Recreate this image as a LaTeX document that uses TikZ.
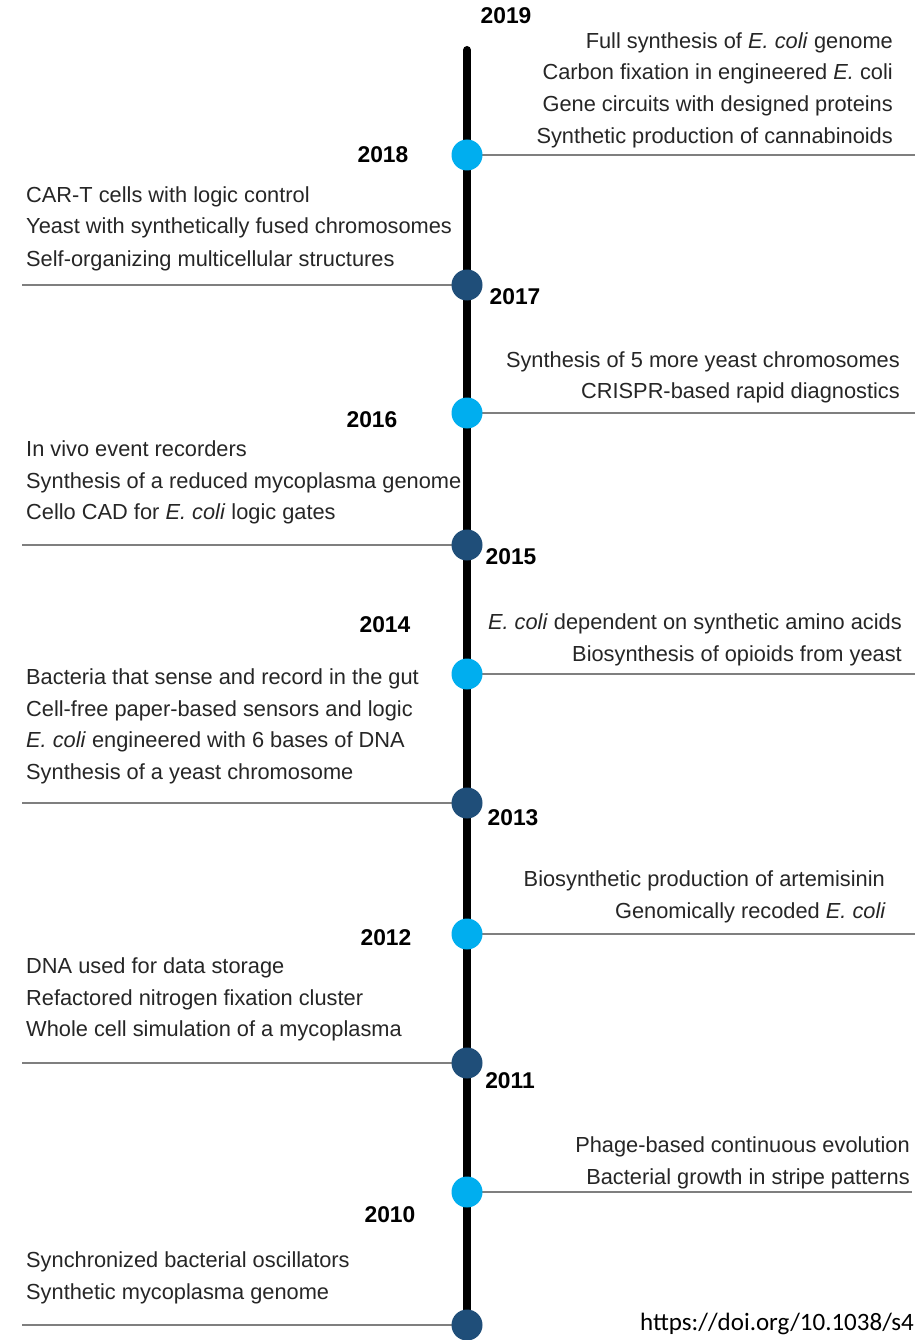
\documentclass[tikz,border=0pt]{standalone}
\usepackage{fontspec}
\setmainfont{Liberation Sans}
\newfontfamily\doifont{Carlito}
\definecolor{lightdot}{HTML}{00AEEF}
\definecolor{darkdot}{HTML}{1F4E79}
\definecolor{rulegray}{HTML}{7F7F7F}
\begin{document}
\begin{tikzpicture}[x=1pt,y=-1pt,
  item/.style={inner sep=0pt,font=\fontsize{21.8}{25}\selectfont,text=black!85},
  ritem/.style={item,anchor=base east},
  litem/.style={item,anchor=base west},
  year/.style={inner sep=0pt,font=\fontsize{22.8}{25}\selectfont\bfseries},
  ldot/.style={circle,fill=lightdot,minimum size=31pt,inner sep=0pt},
  ddot/.style={circle,fill=darkdot,minimum size=31pt,inner sep=0pt},
  tick/.style={draw=rulegray,line width=2pt},
  axis/.style={draw=black,line width=8pt,line cap=round}]
\clip (0,0) rectangle (922,1340);
\fill[white] (0,0) rectangle (922,1340);
% centres of the dots
\coordinate (c18) at (467,155);
\coordinate (c17) at (467,285);
\coordinate (c16) at (467,413);
\coordinate (c15) at (467,545);
\coordinate (c14) at (467,674);
\coordinate (c13) at (467,803);
\coordinate (c12) at (467,934);
\coordinate (c11) at (467,1063);
\coordinate (c10) at (467,1192);
\coordinate (c09) at (467,1325);
% ends of the rules
\coordinate (e18) at (915,155);
\coordinate (e17) at (22,285);
\coordinate (e16) at (915,413);
\coordinate (e15) at (22,545);
\coordinate (e14) at (915,674);
\coordinate (e13) at (22,803);
\coordinate (e12) at (915,934);
\coordinate (e11) at (22,1063);
\coordinate (e10) at (912,1192);
\coordinate (e09) at (22,1325);
\foreach \k in {18,17,16,15,14,13,12,11,10,09}{\draw[tick] (c\k) -- (e\k);}
% axis
\coordinate (atop) at (467,50);
\coordinate (abot) at (467,1360);
\draw[axis] (atop) -- (abot);
% dots
\node[ldot] (d18) at (c18) {};
\node[ddot] (d17) at (c17) {};
\node[ldot] (d16) at (c16) {};
\node[ddot] (d15) at (c15) {};
\node[ldot] (d14) at (c14) {};
\node[ddot] (d13) at (c13) {};
\node[ldot] (d12) at (c12) {};
\node[ddot] (d11) at (c11) {};
\node[ldot] (d10) at (c10) {};
\node[ddot] (d09) at (c09) {};
% years
\node[year] (y2019) at (506,16) {2019};
\node[year] (y2018) at (383,155) {2018};
\node[year] (y2017) at (515,297) {2017};
\node[year] (y2016) at (372,420) {2016};
\node[year] (y2015) at (511,557) {2015};
\node[year] (y2014) at (385,625) {2014};
\node[year] (y2013) at (513,818) {2013};
\node[year] (y2012) at (386,938) {2012};
\node[year] (y2011) at (510,1081) {2011};
\node[year] (y2010) at (390,1215) {2010};
% 2018-2019 right
\node[ritem] (r1a) at (893,49) {Full synthesis of \textit{E. coli} genome};
\node[ritem] (r1b) at (893,80) {Carbon fixation in engineered \textit{E.} coli};
\node[ritem] (r1c) at (893,112) {Gene circuits with designed proteins};
\node[ritem] (r1d) at (893,144) {Synthetic production of cannabinoids};
% 2017-2018 left
\node[litem] (l1a) at (26,203) {CAR-T cells with logic control};
\node[litem] (l1b) at (26,234) {Yeast with synthetically fused chromosomes};
\node[litem] (l1c) at (26,266) {Self-organizing multicellular structures};
% 2016-2017 right
\node[ritem] (r2a) at (900,367) {Synthesis of 5 more yeast chromosomes};
\node[ritem] (r2b) at (900,398) {CRISPR-based rapid diagnostics};
% 2015-2016 left
\node[litem] (l2a) at (26,456) {In vivo event recorders};
\node[litem] (l2b) at (26,488) {Synthesis of a reduced mycoplasma genome};
\node[litem] (l2c) at (26,519) {Cello CAD for \textit{E. coli} logic gates};
% 2014-2015 right
\node[ritem] (r3a) at (902,629) {\textit{E. coli} dependent on synthetic amino acids};
\node[ritem] (r3b) at (902,661) {Biosynthesis of opioids from yeast};
% 2013-2014 left
\node[litem] (l3a) at (26,684) {Bacteria that sense and record in the gut};
\node[litem] (l3b) at (26,716) {Cell-free paper-based sensors and logic};
\node[litem] (l3c) at (26,747) {\textit{E. coli} engineered with 6 bases of DNA};
\node[litem] (l3d) at (26,779) {Synthesis of a yeast chromosome};
% 2012-2013 right
\node[ritem] (r4a) at (885,886) {Biosynthetic production of artemisinin};
\node[ritem] (r4b) at (886,918) {Genomically recoded \textit{E. coli}};
% 2011-2012 left
\node[litem] (l4a) at (26,973) {DNA used for data storage};
\node[litem] (l4b) at (26,1005) {Refactored nitrogen fixation cluster};
\node[litem] (l4c) at (26,1036) {Whole cell simulation of a mycoplasma};
% 2010-2011 right
\node[ritem] (r5a) at (910,1152) {Phage-based continuous evolution};
\node[ritem] (r5b) at (910,1184) {Bacterial growth in stripe patterns};
% 2009-2010 left
\node[litem] (l5a) at (26,1267) {Synchronized bacterial oscillators};
\node[litem] (l5b) at (26,1299) {Synthetic mycoplasma genome};
% doi
\node[inner sep=0pt,anchor=base west,font=\doifont\fontsize{25}{30}\selectfont] (doi) at (640,1330) {https://doi.org/10.1038/s4};
\end{tikzpicture}
\end{document}
